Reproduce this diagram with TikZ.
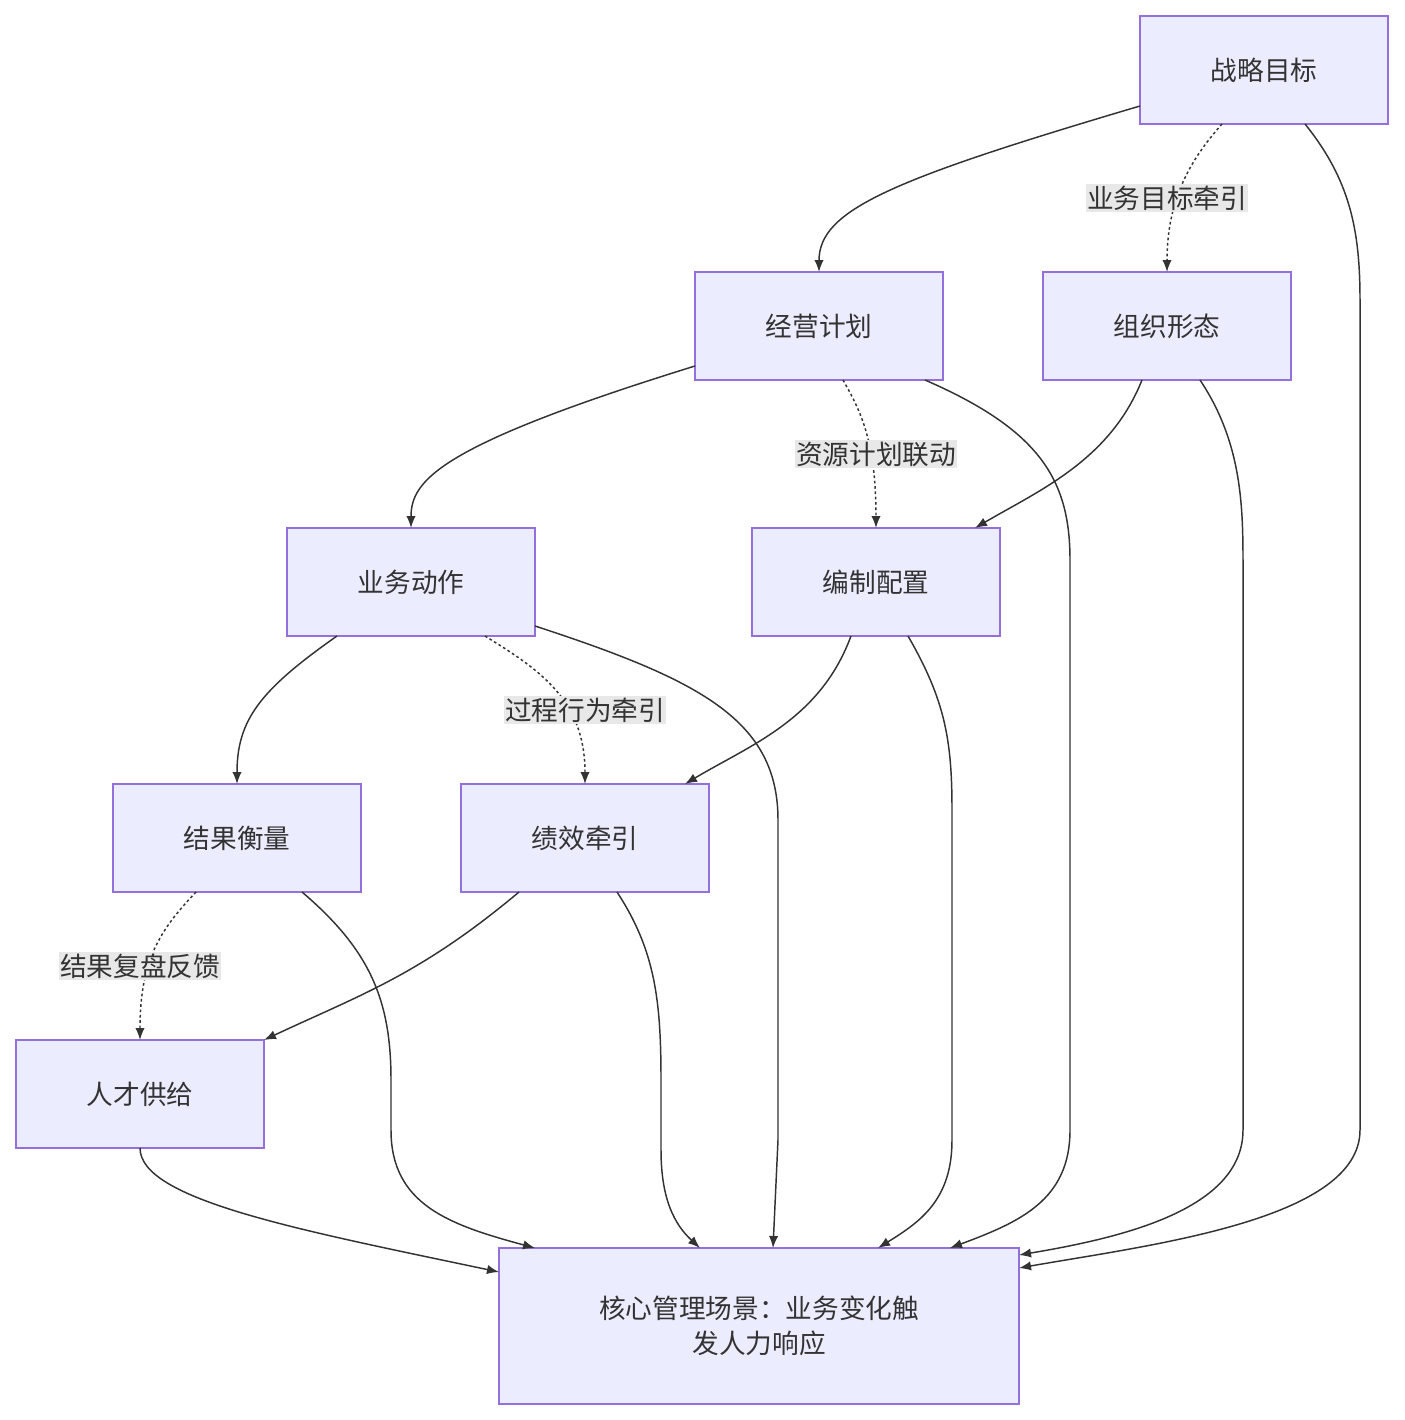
\documentclass[tikz,border=0pt]{standalone}
\usepackage{fontspec}
\setmainfont{Noto Sans CJK SC}
\usetikzlibrary{arrows.meta}
\definecolor{nfill}{HTML}{ECECFF}
\definecolor{nline}{HTML}{9370DB}
\definecolor{eline}{HTML}{333333}
\definecolor{lbg}{HTML}{E8E8E8}
\begin{document}
\begin{tikzpicture}[x=0.75pt,y=-0.75pt,
  box/.style={draw=nline,fill=nfill,line width=1.2pt,minimum width=186pt,minimum height=81pt,inner sep=0pt,font=\fontsize{20}{26}\selectfont,text=eline},
  edge/.style={draw=eline,line width=1.1pt,-{Latex[length=9pt,width=7pt]}},
  dot/.style={edge,dash pattern=on 2pt off 2pt},
  lab/.style={fill=lbg,inner sep=1pt,font=\fontsize{20}{24}\selectfont,text=eline}]
\useasboundingbox (0,0) rectangle (1404,1420);
\node[box] (s) at (1264,70) {战略目标};
\node[box] (jy) at (819,326) {经营计划};
\node[box] (zz) at (1167,326) {组织形态};
\node[box] (yw) at (411,582) {业务动作};
\node[box] (bz) at (876,582) {编制配置};
\node[box] (jg) at (237,838) {结果衡量};
\node[box] (jx) at (585,838) {绩效牵引};
\node[box] (rc) at (140,1094) {人才供给};
\node[box,minimum width=390pt,minimum height=117pt,align=center] (core) at (759,1326) {核心管理场景：业务变化触\\发人力响应};

\draw[edge] (1140,106) .. controls (890,180) and (819,210) .. (819,272);
\draw[dot] (1222,124) .. controls (1190,160) and (1167,200) .. (1167,272);
\node[lab] at (1167,198) {业务目标牵引};
\draw[edge] (1305,124) .. controls (1350,180) and (1360,230) .. (1360,300) -- (1360,1130) .. controls (1360,1220) and (1150,1245) .. (1019,1268);
\draw[edge] (695,366) .. controls (440,445) and (411,480) .. (411,528);
\draw[dot] (843,380) .. controls (860,410) and (876,440) .. (876,528);
\node[lab] at (876,454) {资源计划联动};
\draw[edge] (925,380) .. controls (1040,430) and (1070,480) .. (1070,560) -- (1070,1130) .. controls (1070,1200) and (1020,1222) .. (950,1248);
\draw[edge] (1142,380) .. controls (1110,460) and (1040,490) .. (975,528);
\draw[edge] (1200,380) .. controls (1240,440) and (1243,500) .. (1243,560) -- (1243,1130) .. controls (1243,1210) and (1120,1238) .. (1019,1255);
\draw[edge] (337,636) .. controls (260,690) and (237,720) .. (237,784);
\draw[dot] (485,636) .. controls (540,670) and (585,700) .. (585,784);
\node[lab] at (585,710) {过程行为牵引};
\draw[edge] (535,626) .. controls (700,680) and (778,720) .. (778,820) -- (778,1140) -- (773,1248);
\draw[edge] (851,636) .. controls (820,720) and (750,745) .. (685,784);
\draw[edge] (908,636) .. controls (945,700) and (952,740) .. (952,810) -- (952,1140) .. controls (952,1200) and (920,1222) .. (878,1248);
\draw[dot] (196,892) .. controls (160,930) and (140,960) .. (140,1040);
\node[lab] at (140,966) {结果复盘反馈};
\draw[edge] (302,892) .. controls (370,950) and (391,1000) .. (391,1080) -- (391,1130) .. controls (391,1205) and (450,1225) .. (535,1248);
\draw[edge] (519,892) .. controls (420,975) and (360,995) .. (264,1040);
\draw[edge] (617,892) .. controls (655,950) and (661,1000) .. (661,1080) -- (661,1150) .. controls (661,1200) and (675,1225) .. (700,1248);
\draw[edge] (140,1148) .. controls (140,1200) and (300,1230) .. (499,1272);
\end{tikzpicture}
\end{document}
